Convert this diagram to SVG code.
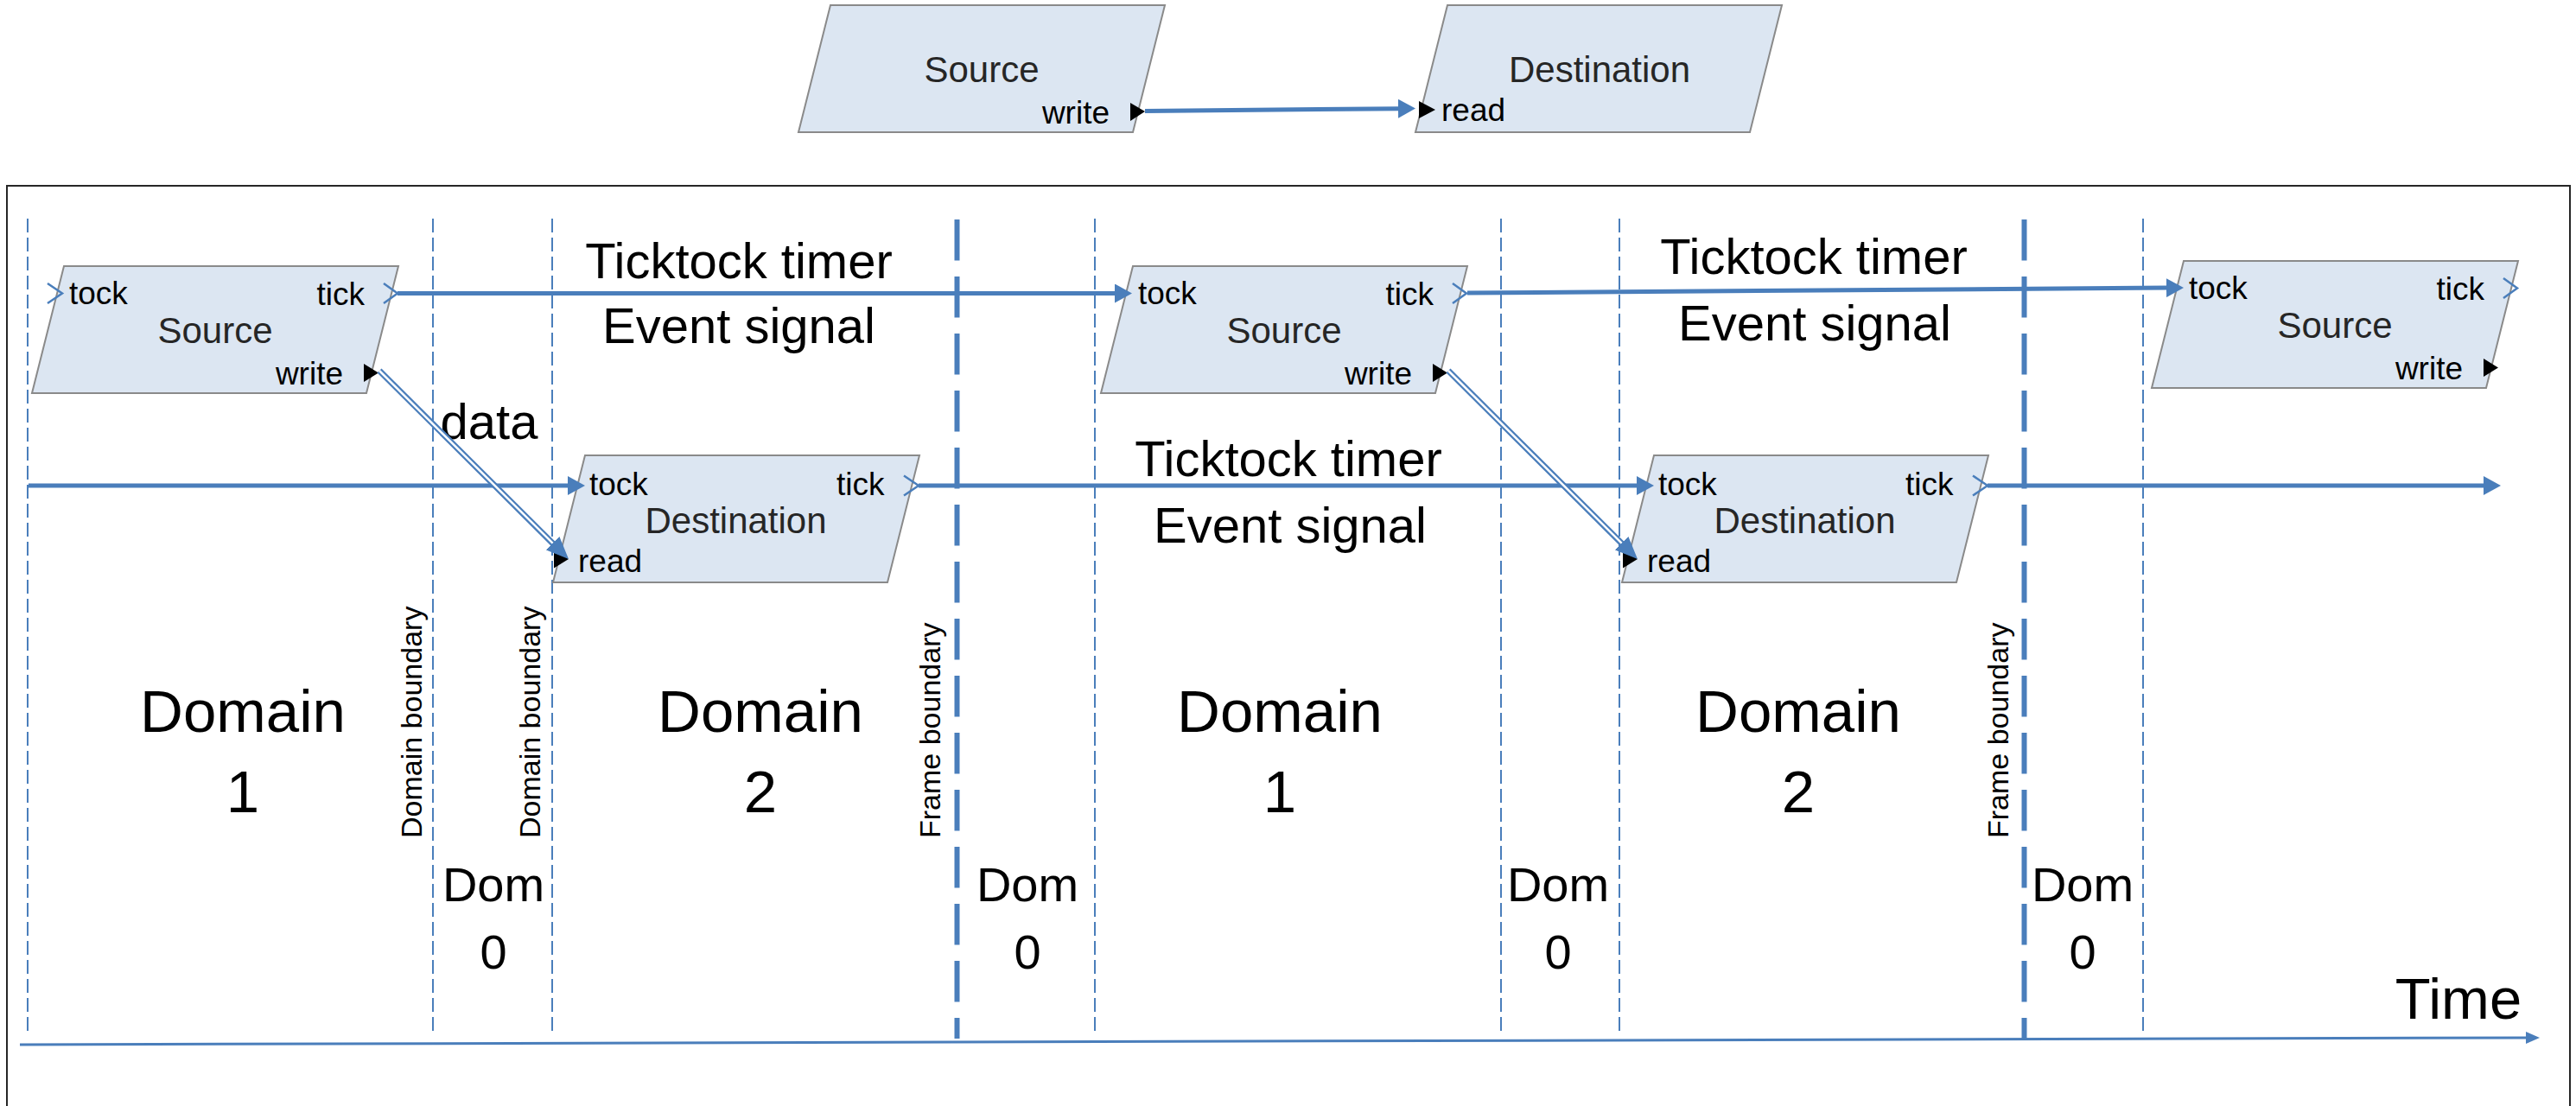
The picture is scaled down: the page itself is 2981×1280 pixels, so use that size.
<svg xmlns="http://www.w3.org/2000/svg" width="2981" height="1280" viewBox="0 0 2981 1280">
<defs>
<style>
text{font-family:"Liberation Sans",Arial,sans-serif}
.node{fill:#dce6f2;stroke:#8a8a8a;stroke-width:2}
.name{font-size:42px;fill:#262626;text-anchor:middle}
.port{font-size:37px;fill:#000}
.end{text-anchor:end}
.big{font-size:58px;fill:#000;text-anchor:middle}
.dom{font-size:69px;fill:#000;text-anchor:middle}
.dom0{font-size:56px;fill:#000;text-anchor:middle}
.vert{font-size:34px;fill:#000}
.time{font-size:67px;fill:#000;text-anchor:middle}
.thin{stroke:#4a7ebb;stroke-width:2;stroke-dasharray:16 6;fill:none}
.thick{stroke:#4a7ebb;stroke-width:6;stroke-dasharray:47.5 18.5;fill:none}
.timer{stroke:#4a7ebb;stroke-width:5;fill:none}
.data{stroke:#4a7ebb;stroke-width:7;fill:none}
.datain{stroke:#fff;stroke-width:2.5;fill:none}
.axis{stroke:#4a7ebb;stroke-width:3;fill:none}
.chev{fill:none;stroke:#4a7ebb;stroke-width:2.5}
.tri{fill:#000}
</style>
<marker id="ah" markerUnits="userSpaceOnUse" markerWidth="20" markerHeight="22" refX="1" refY="11" orient="auto"><path d="M0,0 L20,11 L0,22 z" fill="#4a7ebb"/></marker>
<marker id="ahd" markerUnits="userSpaceOnUse" markerWidth="26" markerHeight="22" refX="1" refY="11" orient="auto"><path d="M0,0 L26,11 L0,22 z" fill="#4a7ebb"/></marker>
<marker id="aht" markerUnits="userSpaceOnUse" markerWidth="16" markerHeight="14" refX="1" refY="7" orient="auto"><path d="M0,0 L16,7 L0,14 z" fill="#4a7ebb"/></marker>
<polygon id="shape" class="node" points="0,0 387,0 350,147 -37,147"/>
</defs>
<rect x="0" y="0" width="2981" height="1280" fill="#fff"/>
<rect x="8" y="215" width="2966" height="1100" fill="none" stroke="#262626" stroke-width="2"/>

<g id="boundaries">
<line class="thin" x1="32" y1="253" x2="32" y2="1194"/>
<line class="thin" x1="501" y1="253" x2="501" y2="1194"/>
<line class="thin" x1="639" y1="253" x2="639" y2="1194"/>
<line class="thin" x1="1267" y1="253" x2="1267" y2="1194"/>
<line class="thin" x1="1737" y1="253" x2="1737" y2="1194"/>
<line class="thin" x1="1874" y1="253" x2="1874" y2="1194"/>
<line class="thin" x1="2480" y1="253" x2="2480" y2="1194"/>
<line class="thick" x1="1107.5" y1="254" x2="1107.5" y2="1202"/>
<line class="thick" x1="2342.5" y1="254" x2="2342.5" y2="1202"/>
</g>

<g id="labels">
<text class="big" x="855" y="322">Ticktock timer</text>
<text class="big" x="855" y="397">Event signal</text>
<text class="big" x="1491" y="551">Ticktock timer</text>
<text class="big" x="1493" y="628">Event signal</text>
<text class="big" x="2099" y="317">Ticktock timer</text>
<text class="big" x="2100" y="394">Event signal</text>
<text class="big" x="566" y="508">data</text>
<text class="dom" x="281" y="847">Domain</text>
<text class="dom" x="281" y="940">1</text>
<text class="dom" x="880" y="847">Domain</text>
<text class="dom" x="880" y="940">2</text>
<text class="dom" x="1481" y="847">Domain</text>
<text class="dom" x="1481" y="940">1</text>
<text class="dom" x="2081" y="847">Domain</text>
<text class="dom" x="2081" y="940">2</text>
<text class="dom0" x="571" y="1043">Dom</text>
<text class="dom0" x="571" y="1121">0</text>
<text class="dom0" x="1189" y="1043">Dom</text>
<text class="dom0" x="1189" y="1121">0</text>
<text class="dom0" x="1803" y="1043">Dom</text>
<text class="dom0" x="1803" y="1121">0</text>
<text class="dom0" x="2410" y="1043">Dom</text>
<text class="dom0" x="2410" y="1121">0</text>
<text class="vert" transform="translate(488,970) rotate(-90)">Domain boundary</text>
<text class="vert" transform="translate(625,970) rotate(-90)">Domain boundary</text>
<text class="vert" transform="translate(1088,970) rotate(-90)">Frame boundary</text>
<text class="vert" transform="translate(2324,970) rotate(-90)">Frame boundary</text>
<text class="time" x="2845" y="1179">Time</text>
</g>

<g id="top-source" transform="translate(961,6)">
<use href="#shape"/>
<text class="name" x="175" y="89">Source</text>
<text class="port end" x="323" y="137">write</text>
<path class="tri" d="M347,113 L364,123 L347,134 z"/>
</g>
<g id="top-destination" transform="translate(1675,6)">
<use href="#shape"/>
<text class="name" x="176" y="89">Destination</text>
<text class="port" x="-7" y="134">read</text>
<path class="tri" d="M-33,111 L-14,121 L-33,131 z"/>
</g>

<g id="source-1" transform="translate(74,308)">
<use href="#shape"/>
<text class="port" x="6" y="44">tock</text>
<text class="port end" x="348" y="45">tick</text>
<text class="name" x="175" y="89">Source</text>
<text class="port end" x="323" y="137">write</text>
<path class="chev" d="M-19,20 L-2,31.5 L-19,43"/>
<path class="chev" d="M370,20 L386,31.5 L370,43"/>
<path class="tri" d="M347,113 L364,123.5 L347,134 z"/>
</g>
<g id="source-2" transform="translate(1311,308)">
<use href="#shape"/>
<text class="port" x="6" y="44">tock</text>
<text class="port end" x="348" y="45">tick</text>
<text class="name" x="175" y="89">Source</text>
<text class="port end" x="323" y="137">write</text>
<path class="chev" d="M370,20 L386,31.5 L370,43"/>
<path class="tri" d="M347,113 L364,123.5 L347,134 z"/>
</g>
<g id="source-3" transform="translate(2527,302)">
<use href="#shape"/>
<text class="port" x="6" y="44">tock</text>
<text class="port end" x="348" y="45">tick</text>
<text class="name" x="175" y="89">Source</text>
<text class="port end" x="323" y="137">write</text>
<path class="chev" d="M370,20 L386,31.5 L370,43"/>
<path class="tri" d="M347,113 L364,123.5 L347,134 z"/>
</g>
<g id="destination-1" transform="translate(677,527)">
<use href="#shape"/>
<text class="port" x="5" y="46">tock</text>
<text class="port end" x="346.5" y="46">tick</text>
<text class="name" x="174.5" y="90">Destination</text>
<text class="port" x="-8" y="135">read</text>
<path class="chev" d="M369,23.5 L386,35 L369,46.5"/>
<path class="tri" d="M-36,109.5 L-19,120 L-36,130.5 z"/>
</g>
<g id="destination-2" transform="translate(1914,527)">
<use href="#shape"/>
<text class="port" x="5" y="46">tock</text>
<text class="port end" x="346.5" y="46">tick</text>
<text class="name" x="174.5" y="90">Destination</text>
<text class="port" x="-8" y="135">read</text>
<path class="chev" d="M369,23.5 L386,35 L369,46.5"/>
<path class="tri" d="M-36,109.5 L-19,120 L-36,130.5 z"/>
</g>

<g id="connectors">
<path class="timer" d="M1325,128.5 L1619,125.7" marker-end="url(#ah)"/>
<path class="timer" d="M460,339.5 L1291,339.5" marker-end="url(#ah)"/>
<path class="timer" d="M1698,339 L2508,333.1" marker-end="url(#ah)"/>
<path class="timer" d="M33,562 L658,562" marker-end="url(#ah)"/>
<path class="timer" d="M1063,562 L1895,562" marker-end="url(#ah)"/>
<path class="timer" d="M2300,562 L2875,562" marker-end="url(#ah)"/>
<path class="data" d="M439,429 L640.3,629.4" marker-end="url(#ahd)"/>
<path class="datain" d="M439,429 L639.6,628.7"/>
<path class="data" d="M1676,429 L1877.3,629.4" marker-end="url(#ahd)"/>
<path class="datain" d="M1676,429 L1876.6,628.7"/>
<path class="axis" d="M23,1209 L2924,1201" marker-end="url(#aht)"/>
</g>
</svg>
